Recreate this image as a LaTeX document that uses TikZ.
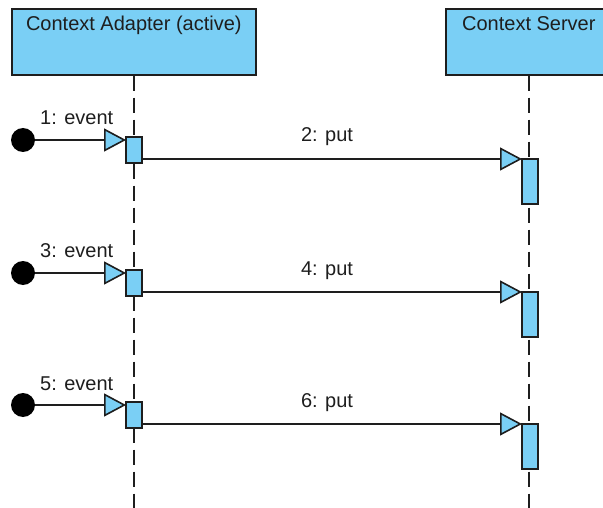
\documentclass[tikz,border=0pt]{standalone}
\usepackage{fontspec}
\setmainfont{Liberation Sans}
\usetikzlibrary{arrows.meta}
\definecolor{vpblue}{RGB}{122,207,245}
\definecolor{ink}{RGB}{30,30,30}
\begin{document}
\begin{tikzpicture}[x=1pt,y=-1pt,
  every node/.style={font=\fontsize{20}{24}\selectfont, text=ink},
  header/.style={draw=ink, fill=vpblue, line width=1.7pt, minimum width=244pt,
    minimum height=66pt, inner sep=0pt, anchor=north west},
  title/.style={anchor=base, inner sep=0pt},
  lifeline/.style={draw=ink, line width=1.6pt, dash pattern=on 15pt off 7pt},
  act/.style={draw=ink, fill=vpblue, line width=1.7pt, minimum width=16pt,
    minimum height=26pt, inner sep=0pt, outer sep=0pt, anchor=north west},
  srvact/.style={act, minimum height=45pt},
  startdot/.style={circle, fill=black, minimum size=24pt, inner sep=0pt},
  msg/.style={draw=ink, line width=1.6pt, -{Triangle[length=22pt,width=23pt,fill=vpblue]}},
  msglabel/.style={inner sep=0pt}
]
\useasboundingbox (0,0) rectangle (603,508);
\coordinate (bottom) at (0,508);

% participants
\node[header] (adapter) at (11,8) {};
\node[header, minimum width=166pt] (server) at (445,8) {};
\node[title] (adaptertitle) at ([yshift=-22.5pt]adapter.north) {Context Adapter (active)};
\node[title] (servertitle) at ([yshift=-22.5pt]server.north) {Context Server};

% lifelines
\draw[lifeline] (adapter.south) -- (adapter.south |- bottom);
\draw[lifeline] (server.south) -- (server.south |- bottom);

% activations
\node[act] (a1) at (126,137) {};
\node[act] (a2) at (126,270) {};
\node[act] (a3) at (126,402) {};
\node[srvact] (s1) at (522,159) {};
\node[srvact] (s2) at (522,292) {};
\node[srvact] (s3) at (522,424) {};

% found messages
\node[startdot] (e1) at (23,140) {};
\node[startdot] (e2) at (23,273) {};
\node[startdot] (e3) at (23,405) {};
\draw[msg] (e1) -- (a1.west |- e1);
\draw[msg] (e2) -- (a2.west |- e2);
\draw[msg] (e3) -- (a3.west |- e3);

% calls to the server
\draw[msg] (a1.east |- s1.north west) -- (s1.north west);
\draw[msg] (a2.east |- s2.north west) -- (s2.north west);
\draw[msg] (a3.east |- s3.north west) -- (s3.north west);

% message labels
\node[msglabel, anchor=base west] (m1) at (40,125) {1: event};
\node[msglabel, anchor=base] (m2) at (327,142) {2: put};
\node[msglabel, anchor=base west] (m3) at (40,258) {3: event};
\node[msglabel, anchor=base] (m4) at (327,275) {4: put};
\node[msglabel, anchor=base west] (m5) at (40,390) {5: event};
\node[msglabel, anchor=base] (m6) at (327,407) {6: put};
\end{tikzpicture}
\end{document}
